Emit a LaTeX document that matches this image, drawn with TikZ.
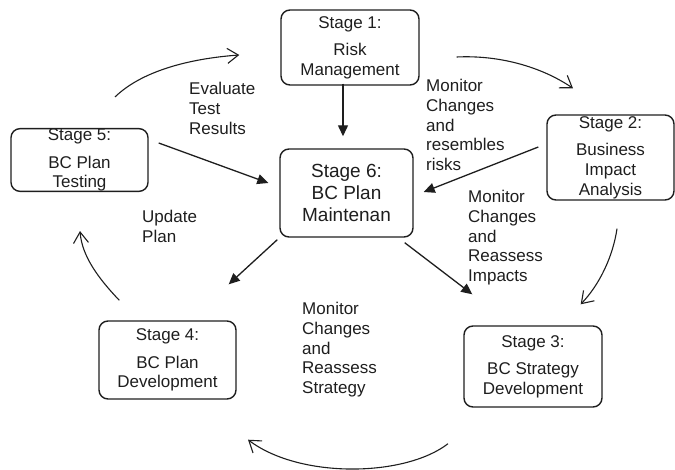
\documentclass[tikz,border=0pt]{standalone}
\usepackage{fontspec}
\setmainfont{Liberation Sans}
\usetikzlibrary{arrows.meta,calc}
\definecolor{ink}{RGB}{30,30,30}
\begin{document}
\begin{tikzpicture}[x=1pt,y=-1pt,
  stagebox/.style={draw=ink, line width=1.4pt, rounded corners=9pt, inner sep=0pt, align=center, text=ink,
    font=\fontsize{17}{19.8}\selectfont},
  lbl/.style={anchor=north west, inner sep=0pt, align=left, text=ink, font=\fontsize{17}{19.8}\selectfont},
  solidarrow/.style={draw=ink, line width=1.3pt, -{Triangle[length=11pt,width=10pt]}},
  cyclearrow/.style={draw=ink, line width=1.1pt, -{Straight Barb[length=11pt,width=15pt,line width=1.1pt]}}
]
\useasboundingbox (0,0) rectangle (675,470);

\node[stagebox, minimum width=138pt, minimum height=75pt] (s1) at (350,47.5) {Stage 1:\\[7.7pt]Risk\\Management};
\node[stagebox, minimum width=127pt, minimum height=85pt] (s2) at (610.5,157.5) {Stage 2:\\[7.7pt]Business\\Impact\\Analysis};
\node[stagebox, minimum width=138pt, minimum height=81pt] (s3) at (533,366.5) {Stage 3:\\[7.7pt]BC Strategy\\Development};
\node[stagebox, minimum width=137pt, minimum height=78pt] (s4) at (167.5,360) {Stage 4:\\[7.7pt]BC Plan\\Development};
\node[stagebox, minimum width=137pt, minimum height=62pt] (s5) at (79.5,160) {Stage 5:\\[7.7pt]BC Plan\\Testing};
\node[stagebox, minimum width=133pt, minimum height=88pt, font=\fontsize{19}{22}\selectfont] (s6) at (346.5,193) {Stage 6:\\BC Plan\\Maintenan};

% labels
\node[lbl] (l1) at (189,82) {Evaluate\\Test\\Results};
\node[lbl] (l2) at (426,79) {Monitor\\Changes\\and\\resembles\\risks};
\node[lbl] (l3) at (468,190) {Monitor\\Changes\\and\\Reassess\\Impacts};
\node[lbl] (l4) at (302,302) {Monitor\\Changes\\and\\Reassess\\Strategy};
\node[lbl] (l5) at (142,210) {Update\\Plan};

% straight arrows into / out of stage 6
\draw[solidarrow] ($(s1.south)+(-7,-2)$) -- ($(s6.north)+(-3.5,-12)$);
\draw[solidarrow] ($(s5.east)+(10,-17)$) -- ($(s6.west)+(-11,-10)$);
\draw[solidarrow] ($(s2.west)+(-8,-10.5)$) -- ($(s6.east)+(10,-1)$);
\draw[solidarrow] ($(s6.south west)+(-2,2)$) -- ($(s4.north east)+(-8,-36)$);
\draw[solidarrow] ($(s6.south east)+(-9,5)$) -- ($(s3.north west)+(9,-31)$);

% cycle arrows
\draw[cyclearrow] ($(s5.north)+(35.5,-31)$) .. controls (145,68) and (198,58) .. ($(s1.west)+(-41,7.5)$);
\draw[cyclearrow] ($(s1.east)+(37,9.5)$) .. controls (498,55) and (540,66) .. ($(s2.north)+(-37.5,-26)$);
\draw[cyclearrow] ($(s2.south)+(6.5,28)$) .. controls (613,256) and (600,284) .. ($(s3.north east)+(-22,-21)$);
\draw[cyclearrow] ($(s3.south)+(-85,36)$) .. controls (405,477) and (300,479) .. ($(s4.south)+(80.5,40)$);
\draw[cyclearrow] ($(s4.north west)+(21,-20)$) .. controls (98,278) and (82,256) .. ($(s5.south)+(0.5,39)$);
\end{tikzpicture}
\end{document}
